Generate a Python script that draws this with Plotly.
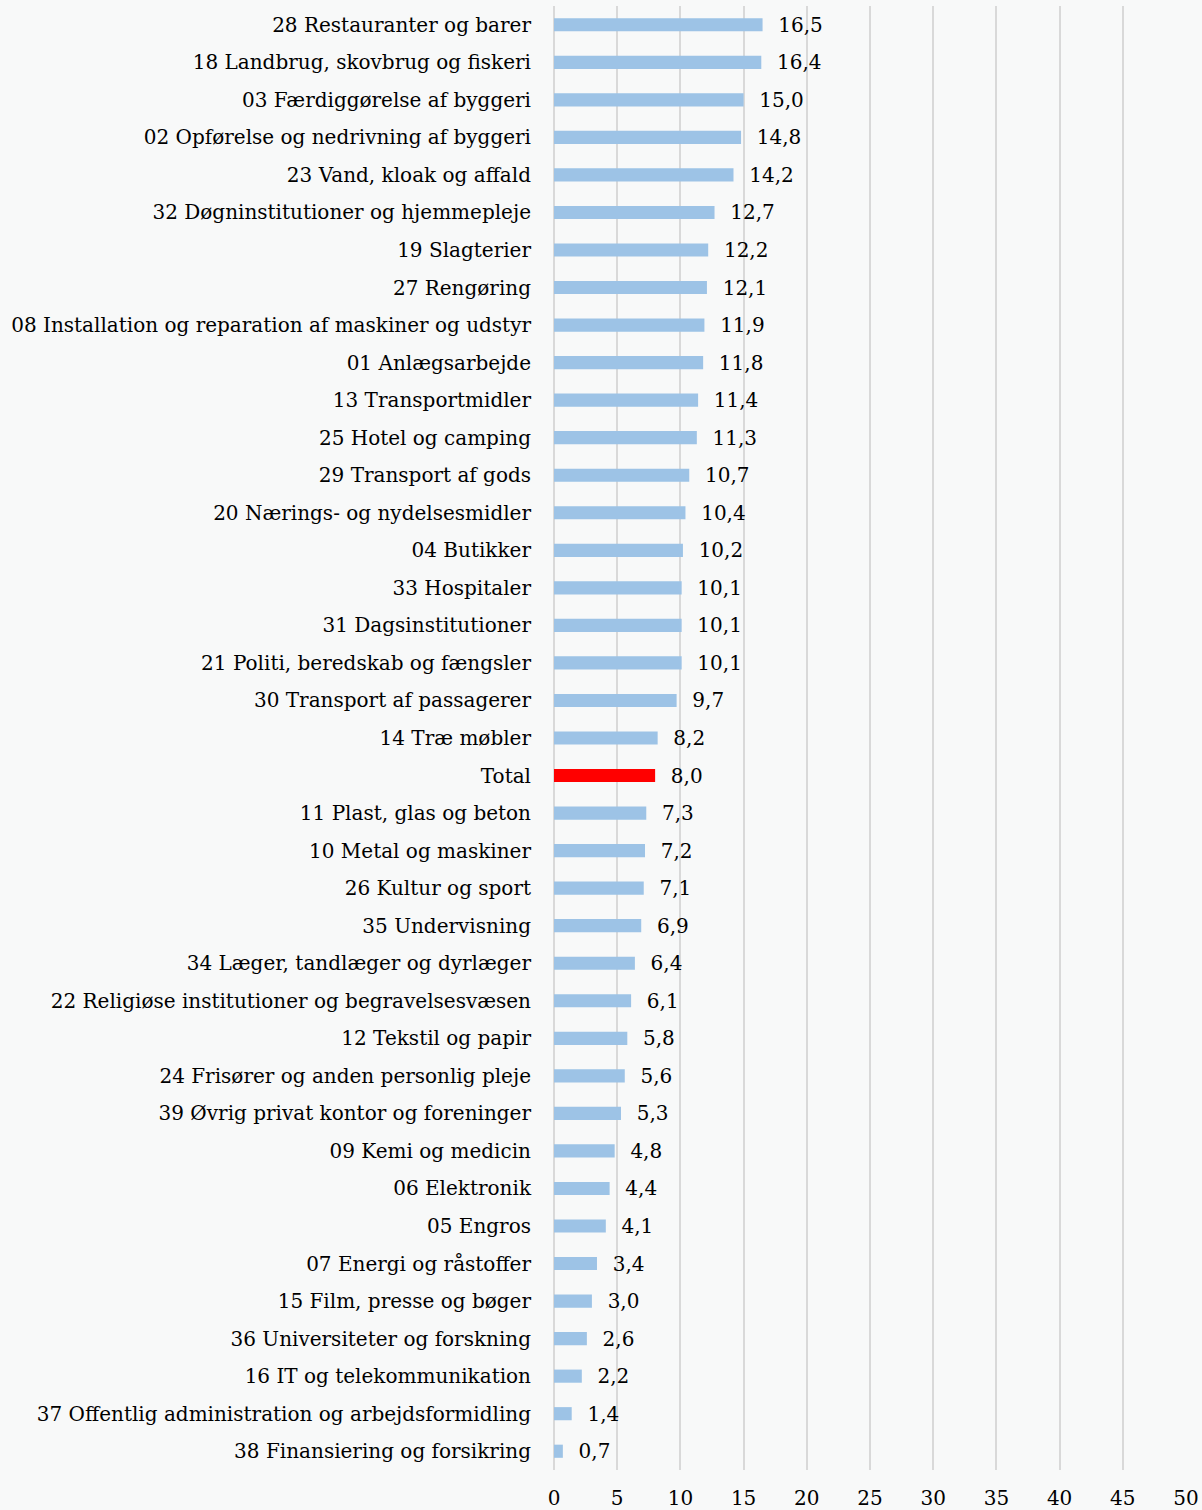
import plotly.graph_objects as go

categories = [
    "28 Restauranter og barer", "18 Landbrug, skovbrug og fiskeri",
    "03 Færdiggørelse af byggeri", "02 Opførelse og nedrivning af byggeri",
    "23 Vand, kloak og affald", "32 Døgninstitutioner og hjemmepleje",
    "19 Slagterier", "27 Rengøring",
    "08 Installation og reparation af maskiner og udstyr", "01 Anlægsarbejde",
    "13 Transportmidler", "25 Hotel og camping", "29 Transport af gods",
    "20 Nærings- og nydelsesmidler", "04 Butikker", "33 Hospitaler",
    "31 Dagsinstitutioner", "21 Politi, beredskab og fængsler",
    "30 Transport af passagerer", "14 Træ møbler", "Total",
    "11 Plast, glas og beton", "10 Metal og maskiner", "26 Kultur og sport",
    "35 Undervisning", "34 Læger, tandlæger og dyrlæger",
    "22 Religiøse institutioner og begravelsesvæsen", "12 Tekstil og papir",
    "24 Frisører og anden personlig pleje", "39 Øvrig privat kontor og foreninger",
    "09 Kemi og medicin", "06 Elektronik", "05 Engros",
    "07 Energi og råstoffer", "15 Film, presse og bøger",
    "36 Universiteter og forskning", "16 IT og telekommunikation",
    "37 Offentlig administration og arbejdsformidling",
    "38 Finansiering og forsikring",
]
values = [
    16.5, 16.4, 15.0, 14.8, 14.2, 12.7, 12.2, 12.1, 11.9, 11.8,
    11.4, 11.3, 10.7, 10.4, 10.2, 10.1, 10.1, 10.1, 9.7, 8.2, 8.0,
    7.3, 7.2, 7.1, 6.9, 6.4, 6.1, 5.8, 5.6, 5.3, 4.8, 4.4, 4.1,
    3.4, 3.0, 2.6, 2.2, 1.4, 0.7,
]
x_ticks = [0, 5, 10, 15, 20, 25, 30, 35, 40, 45, 50]

BLUE = "#9dc3e6"
RED = "#ff0000"
BG = "#f8f9f9"
FONT = "DejaVu Serif"

colors = [RED if c == "Total" else BLUE for c in categories]

fig = go.Figure(go.Bar(
    x=values, y=categories, orientation="h",
    marker=dict(color=colors, line_width=0),
    width=0.35,
    texttemplate="\u00a0\u00a0%{x:.1f}",
    textposition="outside",
    constraintext="none",
    textfont=dict(family=FONT, size=20, color="#000000"),
    cliponaxis=False,
))

fig.update_layout(
    width=1202, height=1510,
    paper_bgcolor=BG, plot_bgcolor=BG,
    font=dict(family=FONT, size=20, color="#000000"),
    margin=dict(l=554, r=16, t=6, b=40, autoexpand=False),
    separators=",.",
    showlegend=False,
    bargap=0.65,
)
fig.update_xaxes(
    range=[0, 50], tickvals=x_ticks, showgrid=True,
    gridcolor="#d9d9d9", gridwidth=2, zeroline=True,
    zerolinecolor="#d9d9d9", zerolinewidth=2, showline=False,
    ticks="outside", ticklen=10, tickcolor="rgba(0,0,0,0)",
)
fig.update_yaxes(
    autorange="reversed", showgrid=False, showline=False,
    ticks="outside", ticklen=18, tickcolor="rgba(0,0,0,0)",
)

# page has a default body margin; drop it so the figure fills the window
fig.write_html(
    "out.html",
    config={"displayModeBar": False},
    post_script="document.body.style.margin='0';",
)
